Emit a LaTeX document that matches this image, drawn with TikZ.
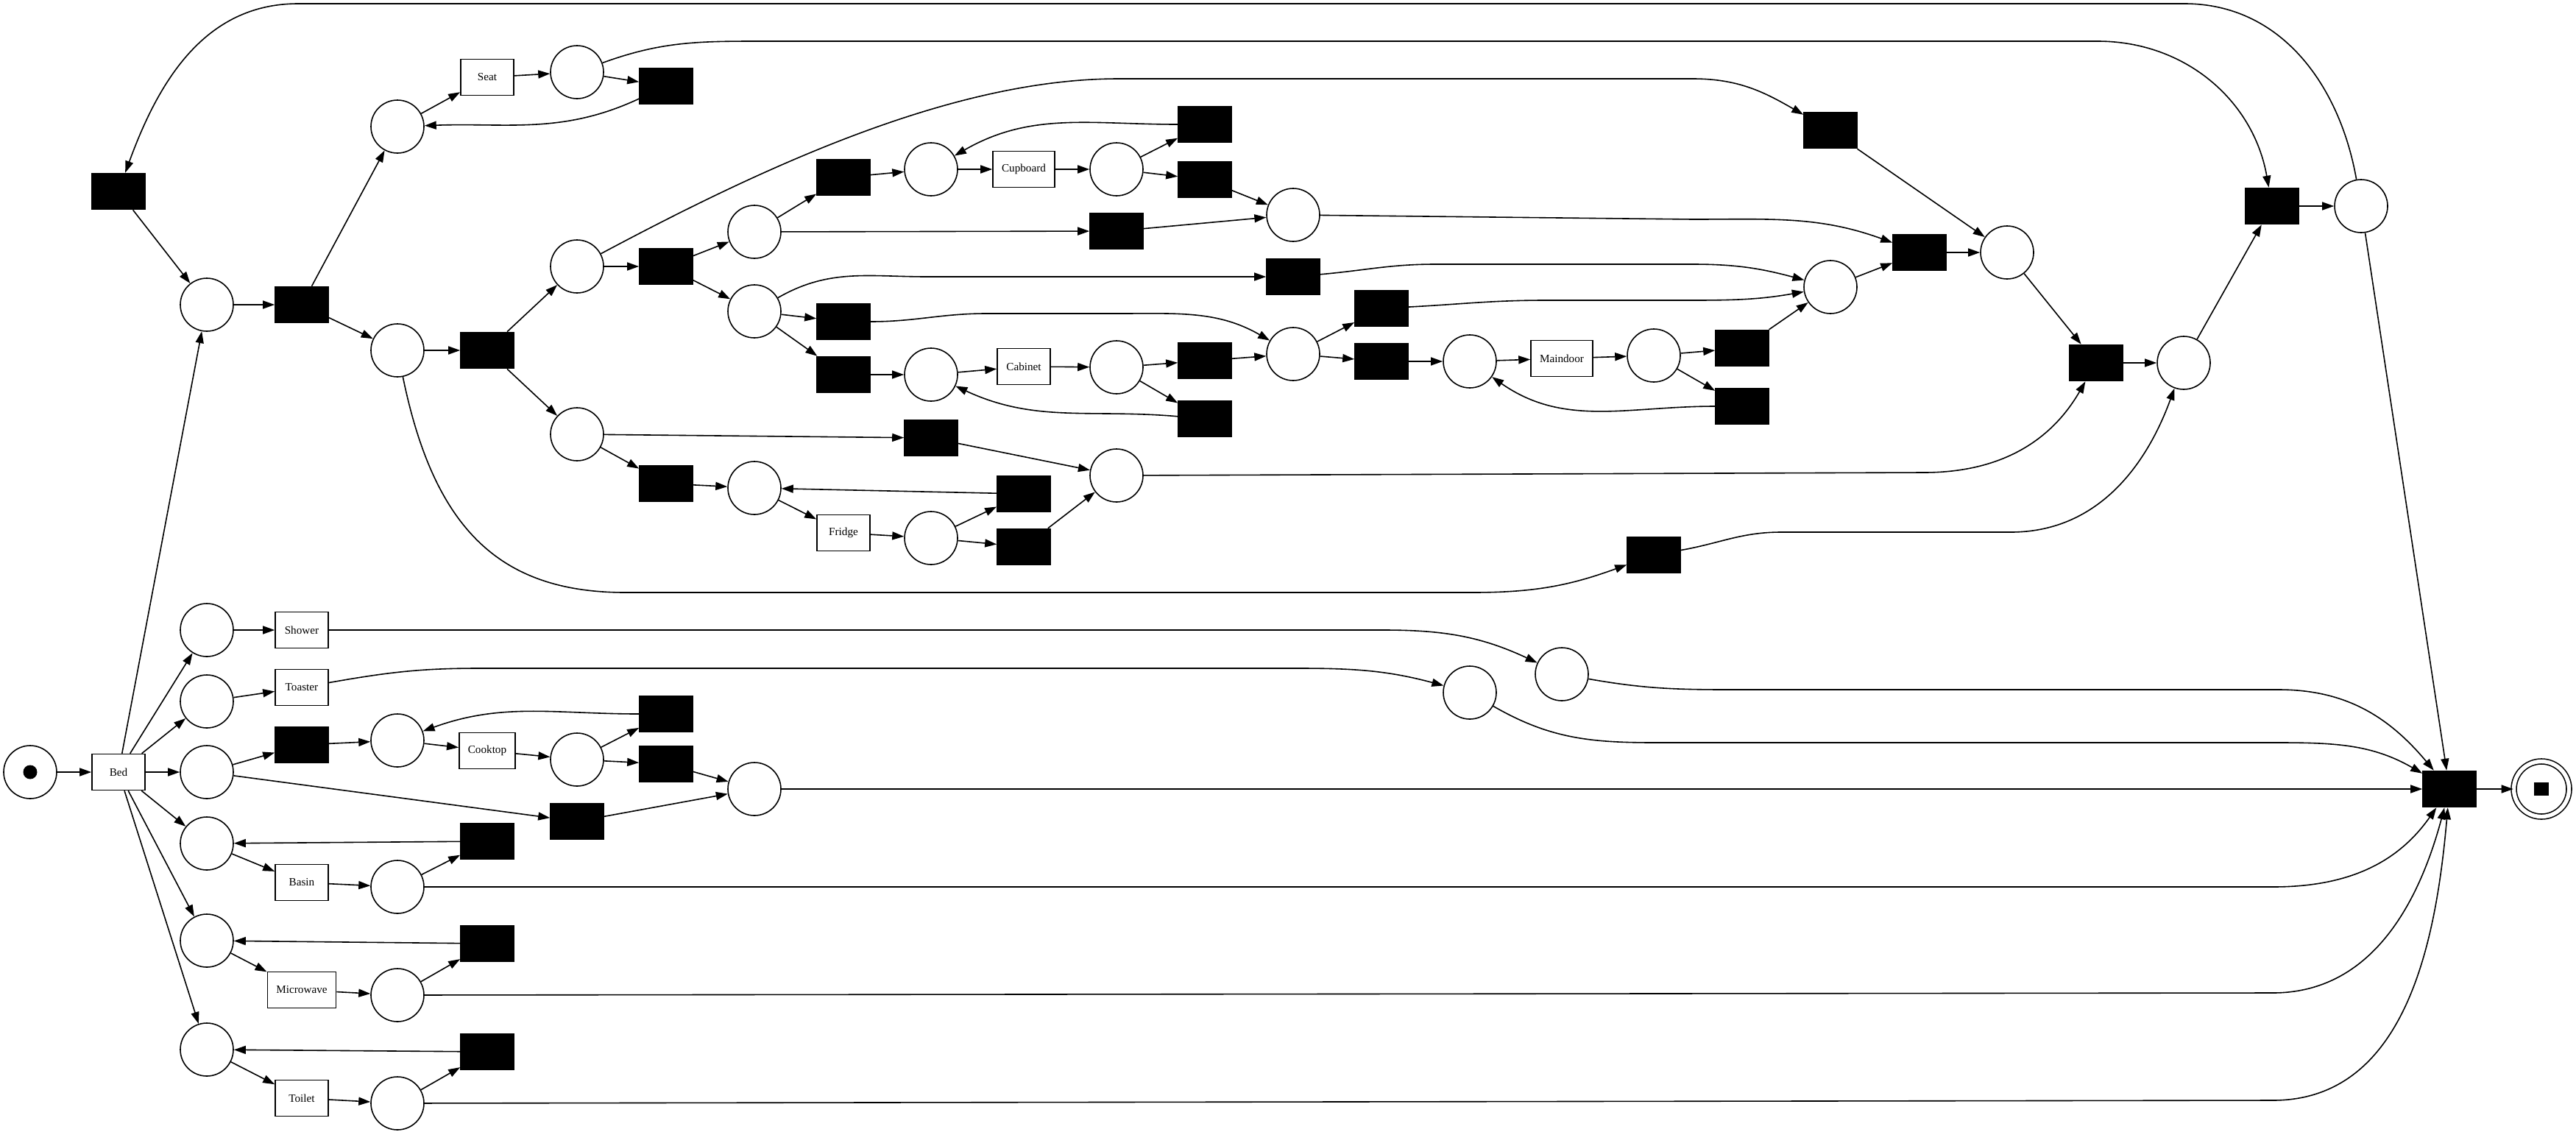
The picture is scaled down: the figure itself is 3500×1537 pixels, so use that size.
\documentclass[tikz,border=0pt]{standalone}
\usepackage{fontspec}
\setmainfont{Liberation Serif}
\usetikzlibrary{arrows.meta,positioning,shapes}

\begin{document}
\begin{tikzpicture}[x=0.5pt, y=-0.5pt, line width=0.8pt, >={Triangle[length=8pt,width=5.5pt]},
	place/.style={circle, draw, minimum size=36pt, inner sep=0pt},
	task/.style={rectangle, draw, minimum width=36pt, minimum height=24.5pt, inner xsep=6pt, inner ysep=0pt, font=\fontsize{7.6}{9}\selectfont},
	silent/.style={rectangle, draw, fill=black, minimum width=36pt, minimum height=24.5pt, inner sep=0pt}]
		\useasboundingbox (0,0) rectangle (3500,1537);
		% places
		\node[place, path picture={\fill (path picture bounding box.center) circle (4.75pt);}] (p0) at (41,1049) {};
		\node[place] (p1) at (281,414) {};
		\node[place] (p2) at (540,172) {};
		\node[place] (p3) at (784,98) {};
		\node[place] (p4) at (540,476) {};
		\node[place] (p5) at (784,362) {};
		\node[place] (p6) at (1025,315) {};
		\node[place] (p7) at (1265,230) {};
		\node[place] (p8) at (1517,230) {};
		\node[place] (p9) at (1757,292) {};
		\node[place] (p10) at (1025,423) {};
		\node[place] (p11) at (1265,509) {};
		\node[place] (p12) at (1517,499) {};
		\node[place] (p13) at (1757,481) {};
		\node[place] (p14) at (1997,491) {};
		\node[place] (p15) at (2247,483) {};
		\node[place] (p16) at (2487,390) {};
		\node[place] (p17) at (2727,343) {};
		\node[place] (p18) at (784,590) {};
		\node[place] (p19) at (1025,663) {};
		\node[place] (p20) at (1265,731) {};
		\node[place] (p21) at (1517,646) {};
		\node[place] (p22) at (2967,493) {};
		\node[place] (p23) at (3208,280) {};
		\node[place] (p24) at (281,856) {};
		\node[place] (p25) at (281,953) {};
		\node[place] (p26) at (281,1049) {};
		\node[place] (p27) at (540,1006) {};
		\node[place] (p28) at (784,1032) {};
		\node[place] (p29) at (1025,1072) {};
		\node[place] (p30) at (281,1146) {};
		\node[place] (p31) at (540,1205) {};
		\node[place] (p32) at (281,1278) {};
		\node[place] (p33) at (540,1352) {};
		\node[place] (p34) at (281,1426) {};
		\node[place] (p35) at (540,1499) {};
		\node[place] (p36) at (2122,916) {};
		\node[place] (p37) at (1997,941) {};
		\node[place, double, double distance=2.7pt, minimum size=37.5pt, path picture={\fill (path picture bounding box.center) +(-5pt,-4.5pt) rectangle +(5pt,4.5pt);}] (pend) at (3453,1072) {};

		% labelled transitions
		\node[task] (bed) at (161,1049) {Bed};
		\node[task] (seat) at (662,105) {Seat};
		\node[task] (cupboard) at (1391,230) {Cupboard};
		\node[task] (cabinet) at (1391,498) {Cabinet};
		\node[task] (maindoor) at (2122,487) {Maindoor};
		\node[task] (fridge) at (1146,724) {Fridge};
		\node[task] (shower) at (410,856) {Shower};
		\node[task] (toaster) at (410,934) {Toaster};
		\node[task] (cooktop) at (662,1020) {Cooktop};
		\node[task] (basin) at (410,1199) {Basin};
		\node[task] (microwave) at (410,1345) {Microwave};
		\node[task] (toilet) at (410,1492) {Toilet};

		% silent transitions
		\node[silent] (t1) at (161,260) {};
		\node[silent] (t2) at (410,414) {};
		\node[silent] (t3) at (905,117) {};
		\node[silent] (t4) at (662,476) {};
		\node[silent] (t5) at (905,362) {};
		\node[silent] (t6) at (1146,241) {};
		\node[silent] (t7) at (1637,169) {};
		\node[silent] (t8) at (1637,244) {};
		\node[silent] (t9) at (1517,314) {};
		\node[silent] (t10) at (1146,437) {};
		\node[silent] (t11) at (1146,509) {};
		\node[silent] (t12) at (1637,490) {};
		\node[silent] (t13) at (1637,569) {};
		\node[silent] (t14) at (1757,376) {};
		\node[silent] (t15) at (1877,419) {};
		\node[silent] (t16) at (1877,491) {};
		\node[silent] (t17) at (2367,473) {};
		\node[silent] (t18) at (2367,552) {};
		\node[silent] (t19) at (2487,177) {};
		\node[silent] (t20) at (2608,343) {};
		\node[silent] (t21) at (2848,493) {};
		\node[silent] (t22) at (3087,280) {};
		\node[silent] (t23) at (1265,595) {};
		\node[silent] (t24) at (905,657) {};
		\node[silent] (t25) at (1391,671) {};
		\node[silent] (t26) at (1391,743) {};
		\node[silent] (t27) at (2247,754) {};
		\node[silent] (t28) at (410,1012) {};
		\node[silent] (t29) at (905,970) {};
		\node[silent] (t30) at (905,1038) {};
		\node[silent] (t31) at (784,1116) {};
		\node[silent] (t32) at (662,1143) {};
		\node[silent] (t33) at (662,1282) {};
		\node[silent] (t34) at (662,1429) {};
		\node[silent] (tend) at (3328,1072) {};

		% arcs from the start
		\draw[->] (p0) -- (bed);
		\draw[->] (bed) -- (p1);
		\draw[->] (bed) -- (p24);
		\draw[->] (bed) -- (p25);
		\draw[->] (bed) -- (p26);
		\draw[->] (bed) -- (p30);
		\draw[->] (bed) -- (p32);
		\draw[->] (bed) -- (p34);

		% upper block
		\draw[->] (t1) -- (p1);
		\draw[->] (p1) -- (t2);
		\draw[->] (t2) -- (p2);
		\draw[->] (t2) -- (p4);
		\draw[->] (p2) -- (seat);
		\draw[->] (seat) -- (p3);
		\draw[->] (p3) -- (t3);
		\draw[->] (t3) to[out=205, in=2] (p2);
		\draw[->] (p3) to[out=20, in=180] (1030,56) -- (2850,56) to[out=0, in=100] (t22);
		\draw[->] (p4) -- (t4);
		\draw[->] (t4) -- (p5);
		\draw[->] (t4) -- (p18);
		\draw[->] (p5) -- (t5);
		\draw[->] (p5) .. controls (1050,220) and (1300,107) .. (1520,107) -- (2300,107) to[out=0, in=150] (t19);
		\draw[->] (t5) -- (p6);
		\draw[->] (t5) -- (p10);
		\draw[->] (p6) -- (t6);
		\draw[->] (t6) -- (p7);
		\draw[->] (p7) -- (cupboard);
		\draw[->] (cupboard) -- (p8);
		\draw[->] (p8) -- (t7);
		\draw[->] (p8) -- (t8);
		\draw[->] (t7) to[out=180, in=30] (p7);
		\draw[->] (t8) -- (p9);
		\draw[->] (p6) -- (t9);
		\draw[->] (t9) -- (p9);
		\draw[->] (p9) -- (2300,298) to[out=0, in=160] (t20);
		\draw[->] (p10) -- (t10);
		\draw[->] (p10) -- (t11);
		\draw[->] (p10) to[out=30, in=180] (1260,376) -- (t14);
		\draw[->] (t10) to[out=0, in=180] (1340,426) -- (1520,426) to[out=0, in=150] (p13);
		\draw[->] (t11) -- (p11);
		\draw[->] (p11) -- (cabinet);
		\draw[->] (cabinet) -- (p12);
		\draw[->] (p12) -- (t12);
		\draw[->] (p12) -- (t13);
		\draw[->] (t13) to[out=175, in=-25] (p11);
		\draw[->] (t12) -- (p13);
		\draw[->] (p13) -- (t15);
		\draw[->] (p13) -- (t16);
		\draw[->] (t16) -- (p14);
		\draw[->] (p14) -- (maindoor);
		\draw[->] (maindoor) -- (p15);
		\draw[->] (p15) -- (t17);
		\draw[->] (p15) -- (t18);
		\draw[->] (t18) to[out=180, in=-35] (p14);
		\draw[->] (t17) -- (p16);
		\draw[->] (t14) to[out=5, in=180] (1950,359) -- (2300,359) to[out=0, in=165] (p16);
		\draw[->] (t15) to[out=3, in=180] (2100,408) -- (2300,408) to[out=0, in=190] (p16);
		\draw[->] (p16) -- (t20);
		\draw[->] (t19) -- (p17);
		\draw[->] (t20) -- (p17);
		\draw[->] (p17) -- (t21);
		\draw[->] (p18) -- (t23);
		\draw[->] (p18) -- (t24);
		\draw[->] (t23) -- (p21);
		\draw[->] (t24) -- (p19);
		\draw[->] (p19) -- (fridge);
		\draw[->] (fridge) -- (p20);
		\draw[->] (p20) -- (t25);
		\draw[->] (p20) -- (t26);
		\draw[->] (t25) -- (p19);
		\draw[->] (t26) -- (p21);
		\draw[->] (p21) -- (2614,642) to[out=0, in=-120] (t21);
		\draw[->] (p4) .. controls (590,720) and (680,805) .. (850,805) -- (2000,805) to[out=0, in=200] (t27);
		\draw[->] (t27) to[out=10, in=180] (2420,723) -- (2732,723) to[out=0, in=-110] (p22);
		\draw[->] (t21) -- (p22);
		\draw[->] (p22) -- (t22);
		\draw[->] (t22) -- (p23);
		\draw[->] (p23) to[out=100, in=0] (2968,5) -- (405,5) to[out=180, in=70] (t1);
		\draw[->] (p23) -- (tend);

		% lower block
		\draw[->] (p24) -- (shower);
		\draw[->] (shower) -- (1880,856) to[out=0, in=155] (p36);
		\draw[->] (p36) to[out=-10, in=180] (2350,937) -- (3096,937) to[out=0, in=130] (tend);
		\draw[->] (p25) -- (toaster);
		\draw[->] (toaster) to[out=10, in=180] (650,908) -- (1766,908) to[out=0, in=165] (p37);
		\draw[->] (p37) to[out=-30, in=180] (2250,1009) -- (3096,1009) to[out=0, in=150] (tend);
		\draw[->] (p26) -- (t28);
		\draw[->] (t28) -- (p27);
		\draw[->] (p27) -- (cooktop);
		\draw[->] (cooktop) -- (p28);
		\draw[->] (p28) -- (t29);
		\draw[->] (p28) -- (t30);
		\draw[->] (t29) to[out=180, in=20] (p27);
		\draw[->] (t30) -- (p29);
		\draw[->] (p26) -- (t31);
		\draw[->] (t31) -- (p29);
		\draw[->] (p29) -- (tend);
		\draw[->] (p30) -- (basin);
		\draw[->] (basin) -- (p31);
		\draw[->] (p31) -- (t32);
		\draw[->] (t32) -- (p30);
		\draw[->] (p31) -- (3088,1205) to[out=0, in=-125] (tend);
		\draw[->] (p32) -- (microwave);
		\draw[->] (microwave) -- (p33);
		\draw[->] (p33) -- (t33);
		\draw[->] (t33) -- (p32);
		\draw[->] (p33) -- (3088,1349) to[out=0, in=-105] (tend);
		\draw[->] (p34) -- (toilet);
		\draw[->] (toilet) -- (p35);
		\draw[->] (p35) -- (t34);
		\draw[->] (t34) -- (p34);
		\draw[->] (p35) -- (3088,1495) to[out=0, in=-95] (tend);
		\draw[->] (tend) -- (pend);
	\end{tikzpicture}
\end{document}
